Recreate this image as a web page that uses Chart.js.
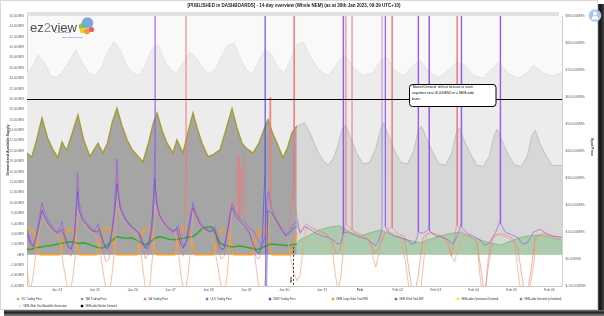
<!DOCTYPE html>
<html><head><meta charset="utf-8">
<script src="https://cdn.jsdelivr.net/npm/chart.js@4/dist/chart.umd.min.js"></script>
<style>html,body{margin:0;padding:0;background:#fff;}canvas{display:block;}</style>
</head><body>
<canvas id="c" width="604" height="316"></canvas>
<script>
// ---------------- DATA (hours from 24 Jan 00:00) ----------------
const xTickLabels = ['Jan 24','Jan 25','Jan 26','Jan 27','Jan 28','Jan 29','Jan 30','Jan 31','Feb','Feb 02','Feb 03','Feb 04','Feb 05','Feb 06'];
const xTickHours = [0,24,48,72,96,120,144,168,192,216,240,264,288,312];
const leftTicks = [-6000,-4000,-2000,0,2000,4000,6000,8000,10000,12000,14000,16000,18000,20000,22000,24000,26000,28000,30000,32000,34000,36000,38000,40000,42000,44000,46000];
const rightTicks = [-100,0,100,200,300,400,500,600,700,800,900];

const demandHist = [[-19,19600],[-16,18800],[-13,22000],[-9.5,26300],[-6,22500],[-2.5,20200],[0.5,18700],[3.2,21700],[5,20600],[6.3,20200],[9,22800],[13.3,26900],[17,22000],[20.9,18900],[24,20500],[26,21500],[29,19600],[32,21500],[35,25500],[38,28200],[41,25000],[44.4,22100],[47.5,20300],[50.7,19200],[54.5,17900],[58,21500],[61,25300],[63.4,27300],[66.5,24000],[69.7,21500],[73.5,19600],[76,22100],[79.8,19600],[83,23500],[86.2,27300],[89,24200],[91.9,21500],[95.7,18900],[99,19300],[103.3,20200],[107,24000],[110.9,28100],[114,24500],[117.2,21500],[120,20500],[124.2,19600],[128,21500],[131,24000],[133.7,26000],[136.5,23500],[139.4,21500],[143.2,18700],[146,20500],[148.9,23500],[152,24800]];
const demandFc = [[152,24800],[157,25500],[161,23000],[165,20000],[169,18000],[172,17300],[175,18500],[178,21000],[181,24500],[183,25000],[186,22500],[190,19500],[194,17500],[198,17800],[202,20500],[205,24000],[207,25500],[210,23000],[214,20000],[218,17800],[222,17500],[226,20000],[229,24000],[231,24800],[234,22500],[238,19800],[242,17600],[246,17200],[250,19500],[253,23500],[255,24500],[258,22000],[262,19500],[266,17300],[270,17000],[274,19000],[277,23000],[279,24200],[282,22000],[286,19200],[290,17300],[294,17000],[298,19000],[301,23000],[303,24000],[306,21500],[310,19000],[314,17200],[320,17200]];
const availGen = [[-19,35000],[-15,36500],[-12,38500],[-8,37000],[-4,34500],[0,34200],[4,35500],[8,37500],[12,39400],[16,37000],[20,35000],[24,34500],[28,36000],[32,39000],[36,41000],[40,39500],[44,36500],[48,35000],[52,34500],[56,36500],[60,39500],[64,40500],[68,37500],[72,35500],[76,35000],[80,37000],[84,39000],[88,38000],[92,36000],[96,34800],[100,35500],[104,38000],[108,40200],[112,40800],[116,38000],[120,35500],[124,35000],[128,37500],[132,39500],[136,38500],[140,36000],[144,35000],[148,37500],[152,40500],[156,41000],[160,38500],[166,35500],[172,34500],[178,37000],[182,38500],[188,36000],[194,34500],[200,35000],[205,37500],[209,38000],[214,35500],[220,34500],[226,36500],[230,37500],[236,35000],[242,34200],[248,35500],[253,37000],[258,36500],[264,34500],[270,34000],[276,36000],[280,37000],[286,35000],[292,34000],[298,35000],[302,36500],[308,35000],[314,34500],[320,35000]];
const solarHist = [[-19,4900],[-17,5100],[-15,4500],[-12.5,2000],[-10.5,0],[1.5,0],[3.5,2100],[5.5,4500],[8,5000],[10.5,4600],[12.5,2200],[14.5,0],[25,0],[27,2300],[29,4700],[31.5,5200],[34,4700],[36,2300],[38,0],[50.5,0],[52.5,2200],[54.5,4600],[57,5100],[59.5,4500],[61.5,2000],[63.5,0],[74.5,0],[76.5,2400],[78.5,4800],[81,5200],[83.5,4800],[85.5,2300],[87.5,0],[99,0],[101,2200],[103,4600],[105.5,5000],[108,4700],[110,2300],[112,0],[123.5,0],[125.5,2100],[127.5,4500],[130,5000],[132.5,4600],[134.5,2200],[136.5,0],[148,0],[150,2000],[152,4300]];
const windHist = [[-19,1000],[-16,1100],[-13,1400],[-10,1500],[-7,1700],[-4,1800],[-1,2000],[2,2200],[5,2300],[8,2500],[11,2400],[14,2200],[17,2300],[20,2100],[23,1700],[26,1400],[29,1300],[32,1900],[35,2800],[38,3500],[41,3300],[44,3200],[47,3300],[50,2900],[53,2400],[56,1900],[59,2500],[62,3200],[65,3500],[68,3300],[71,3000],[74,2900],[77,3000],[80,3200],[83,3400],[86,3500],[89,4200],[92,5100],[95,5300],[98,5400],[100,4300],[103,2300],[106,1900],[109,1600],[112,1500],[115,1700],[118,1600],[121,1400],[124,1200],[127,1000],[130,1300],[133,1800],[136,2100],[139,2000],[142,1900],[145,1800],[148,1900],[152,2100]];
const windFc = [[152,2100],[154,2900],[160,3800],[166,4800],[172,5300],[179,5600],[185,4500],[192,3650],[198,4200],[205,4800],[211,4000],[217,3300],[223,2800],[230,2300],[236,3000],[243,3650],[249,4100],[255,4400],[261,3600],[268,2900],[274,2300],[281,1900],[287,2600],[293,3300],[300,3700],[306,3850],[313,3300],[320,2900]];
const qldPrice = [[-19,110],[-17,70],[-15,50],[-13,90],[-11,160],[-9.5,210],[-8,175],[-6,150],[-4,130],[-2,115],[0,100],[2,120],[3,140],[5,90],[7,50],[9,40],[11,90],[12,170],[13,320],[14,210],[16,160],[18,140],[20,125],[22,110],[24,105],[26,130],[28,80],[30,45],[32,35],[34,70],[36,160],[37,260],[38,370],[39,230],[41,175],[44,145],[47,125],[50,105],[53,90],[55,55],[57,35],[59,60],[61,150],[61.9,400],[62.1,2000],[62.3,260],[64,180],[66,150],[68,135],[71,115],[74,105],[77,125],[79,65],[81,45],[83,75],[85,150],[86,210],[88,170],[91,135],[94,115],[97,105],[100,120],[103,65],[106,45],[108,110],[110,180],[111,205],[113,175],[116,150],[119,135],[122,115],[125,100],[127,75],[130,45],[132,90],[133,220],[134,250],[136,185],[139,145],[142,115],[145,90],[148,110],[150,130],[152,140],[154,95],[157,120],[160,110],[164,95],[168,85],[172,80],[175,70],[178,55],[180,60],[181.2,90],[181.4,2000],[181.6,95],[184,100],[188,90],[192,80],[196,75],[199,60],[202,50],[204,70],[205.9,110],[206.1,2000],[207.9,2000],[208.1,120],[210,100],[214,85],[218,80],[222,70],[225,55],[227,60],[228.7,90],[228.9,2000],[229.1,100],[232,95],[235.6,110],[235.8,2000],[236,105],[240,85],[244,80],[248,70],[251,55],[254,90],[256,130],[256.2,2000],[256.4,120],[260,95],[264,85],[268,70],[271,50],[274,60],[278,100],[280.7,140],[280.9,2000],[281.1,130],[284,100],[288,90],[292,80],[295,55],[298,60],[302,100],[306,110],[310,95],[314,85],[320,80]];
const nswPrice = [[-19,95],[-17,60],[-15,45],[-13,85],[-11,140],[-9.5,180],[-8,160],[-6,135],[-4,120],[-2,105],[0,95],[3,110],[5,80],[7,45],[9,35],[11,80],[13,250],[14,180],[16,145],[19,125],[22,105],[25,100],[27,110],[29,70],[31,40],[33,45],[35,110],[37,200],[38,280],[40,190],[43,150],[46,125],[49,110],[52,95],[54,60],[56,40],[58,55],[60,120],[62,300],[63,210],[65,160],[68,130],[71,110],[74,100],[76,115],[78,60],[80,40],[82,70],[84,140],[86,190],[88,160],[91,125],[94,110],[97,100],[100,110],[102,60],[104,35],[106,40],[108,100],[110,170],[111,190],[113,160],[116,140],[119,120],[122,95],[124,60],[126,30],[128,20],[130,60],[131.6,300],[131.8,2000],[132.2,-400],[133.5,180],[136,170],[139,140],[142,110],[145,85],[148,100],[150,115],[152,120]];
const saPrice = [[-19,100],[-17,40],[-15,20],[-13,70],[-11,150],[-9.5,200],[-8,165],[-6,140],[-4,120],[-2,105],[0,95],[3,115],[5,60],[7,20],[9,10],[11,70],[13,280],[14,190],[16,150],[19,125],[22,105],[25,95],[27,100],[29,30],[31,-10],[33,0],[35,90],[37,220],[38,330],[40,200],[43,155],[46,130],[49,110],[52,95],[54,40],[56,0],[58,20],[60,110],[62,280],[63,220],[65,165],[68,135],[71,115],[74,100],[76,110],[78,40],[80,10],[81.5,300],[81.7,2000],[81.9,200],[84,150],[86,200],[88,165],[91,130],[94,115],[97,100],[100,105],[102,40],[104,0],[106,10],[108,90],[110,190],[111,210],[113,180],[114.7,385],[115.2,150],[116.5,330],[117,160],[118.5,380],[119,140],[122,100],[124,50],[126,10],[128,0],[130,40],[132,150],[134,230],[135,600],[135.4,200],[138,160],[141,130],[144,105],[147,110],[150,300],[150.2,2000],[150.4,220],[152,160],[154,100],[158,130],[162,115],[166,105],[170,95],[174,70],[177,20],[179,30],[181,80],[182.8,120],[183,2000],[183.2,130],[186.7,110],[186.9,2000],[187.1,105],[190,95],[194,85],[198,70],[201,20],[204,40],[208,100],[212.1,120],[212.3,2000],[212.5,115],[216,95],[220,85],[223,-40],[226,-150],[229,-60],[232,80],[236,100],[240,90],[244,85],[248,60],[250,10],[253.3,130],[253.5,2000],[253.7,125],[258,95],[262,85],[266,60],[269,-50],[271,-150],[273,-40],[276,80],[280,95],[284,90],[288,80],[292,40],[295,-80],[297,-150],[300,-60],[303,80],[308,95],[314,85],[320,80]];
const vicPrice = [[-19,-40],[-17,-120],[-15,-60],[-13,40],[-11,110],[-9,150],[-6,120],[-3,100],[0,90],[2,60],[4,-20],[6,-90],[8,-130],[10,-70],[12,30],[13,180],[15,150],[18,120],[21,100],[24,95],[27,40],[29,-40],[31,-110],[33,-140],[35,-50],[37,60],[38,220],[40,160],[43,130],[46,110],[50,90],[53,30],[55,-60],[57,-150],[59,-90],[61,40],[62,200],[64,170],[67,130],[71,110],[75,100],[77,20],[79,-80],[81,-130],[83,-60],[85,60],[86,180],[88,150],[91,120],[95,100],[99,70],[102,-30],[104,-100],[106,-140],[108,-50],[110,100],[111,190],[113,160],[117,130],[121,100],[124,70],[126,-20],[128,-110],[130,-150],[132,-70],[134,90],[135,180],[138,140],[142,110],[146,80],[148,10],[150,-50],[152,-80],[154,-60],[156,40],[158,120],[162,110],[166,100],[170,90],[174,60],[176,-40],[178,-120],[180,-60],[182,80],[186,110],[190,100],[194,90],[198,70],[200,10],[202,-30],[204,20],[206,90],[210,100],[214,95],[218,80],[221,-20],[224,-150],[227,-120],[230,-140],[232,-30],[234,90],[238,95],[242,90],[246,80],[249,20],[252,-10],[254,40],[258,90],[262,85],[266,70],[268,-60],[270,-150],[272,-80],[274,50],[278,90],[282,85],[286,80],[290,60],[293,-90],[296,-150],[299,-130],[302,-20],[304,80],[308,90],[312,85],[316,80],[320,70]];
const nowHour = 149.6;
const annotationMW = 30000;

// ---------------- CHART ----------------
const F = '"Liberation Sans", Arial, sans-serif';
const pts = a => a.map(p => ({x: p[0], y: p[1]}));
const base = {pointRadius: 0, pointHoverRadius: 0, tension: 0, borderJoinStyle: 'miter'};

function txt(c, s, x, y, size, o) {
  o = o || {};
  c.font = (o.bold ? 'bold ' : '') + size + 'px ' + F;
  c.fillStyle = o.color || '#333';
  c.textAlign = o.align || 'left';
  c.textBaseline = 'middle';
  c.fillText(s, x, y);
}

const deco = {
  id: 'deco',
  beforeDraw(ch) {
    const c = ch.ctx, a = ch.chartArea;
    c.save();
    c.fillStyle = '#fff'; c.fillRect(0, 0, 604, 316);
    let g = c.createLinearGradient(598, 0, 604, 0);
    g.addColorStop(0, '#555'); g.addColorStop(0.3, '#111'); g.addColorStop(1, '#444');
    c.fillStyle = g; c.fillRect(598, 4, 6, 312);
    g = c.createLinearGradient(0, 310, 0, 316);
    g.addColorStop(0, '#777'); g.addColorStop(0.4, '#222'); g.addColorStop(1, '#888');
    c.fillStyle = g; c.fillRect(4, 310, 600, 6);
    c.fillStyle = '#fff'; c.fillRect(0, 0, 598, 310);
    c.strokeStyle = '#d8d8d8'; c.lineWidth = 1; c.strokeRect(0.5, 0.5, 597, 309);
    const y0 = ch.scales.y.getPixelForValue(0);
    c.fillStyle = '#f9f9f9'; c.fillRect(a.left, a.top, a.right - a.left, y0 - a.top);
    c.restore();
  },
  afterDatasetsDraw(ch) {
    const c = ch.ctx, a = ch.chartArea, xs = ch.scales.x, ys = ch.scales.y;
    c.save();
    c.fillStyle = '#e2e2e2'; c.fillRect(a.left, a.top - 4, a.right - a.left - 3, 4);
    const nx = Math.round(xs.getPixelForValue(nowHour)) + 0.5;
    const y0 = ys.getPixelForValue(0);
    c.strokeStyle = '#333'; c.lineWidth = 1; c.setLineDash([2, 2]);
    c.beginPath(); c.moveTo(nx, y0 - 8); c.lineTo(nx, a.bottom); c.stroke();
    c.setLineDash([]);
    c.save(); c.translate(nx - 2.5, a.bottom - 3); c.rotate(-Math.PI / 2);
    txt(c, 'now', 0, 0, 3, {color: '#222', bold: true}); c.restore();
    const ly = Math.round(ys.getPixelForValue(annotationMW)) + 0.5;
    const bx = 409.5, bw = 86.5, by = 84.5, bh = 22;
    c.strokeStyle = '#000'; c.lineWidth = 1;
    c.beginPath(); c.moveTo(a.left, ly); c.lineTo(bx, ly); c.moveTo(bx + bw, ly); c.lineTo(a.right, ly); c.stroke();
    c.beginPath();
    c.roundRect(bx, by, bw, bh, 3);
    c.fillStyle = '#fff'; c.fill(); c.stroke();
    txt(c, "'Market Demand' still not forecast to reach", 412, 87.5, 3.3, {color: '#111'});
    txt(c, 'anywhere near 30,000MW on a NEM-wide', 412, 93.2, 3.3, {color: '#111'});
    txt(c, 'basis.', 412, 98.9, 3.3, {color: '#111'});
    c.restore();
  },
  afterDraw(ch) {
    const c = ch.ctx;
    c.save();
    txt(c, '[PUBLISHED in DASHBOARDS] - 14-day overview (Whole NEM) (as at 30th Jan 2023, 09:39 UTC+10)', 294, 5.5, 4.5, {bold: true, align: 'center', color: '#222'});
    c.save(); c.translate(8, 150); c.rotate(-Math.PI / 2);
    txt(c, 'Demand and Available Supply', 0, 0, 3.6, {bold: true, align: 'center', color: '#333'}); c.restore();
    c.save(); c.translate(592, 147); c.rotate(Math.PI / 2);
    txt(c, 'Spot Price', 0, 0, 3.6, {bold: true, align: 'center', color: '#333'}); c.restore();
    c.font = '13px ' + F; c.textBaseline = 'alphabetic'; c.textAlign = 'left';
    let lx = 30;
    c.fillStyle = '#4a4a4a'; c.fillText('ez', lx, 31.5); lx += c.measureText('ez').width;
    c.fillStyle = '#8a8a8a'; c.fillText('2', lx, 31.5); lx += c.measureText('2').width;
    c.fillStyle = '#4a4a4a'; c.fillText('view', lx, 31.5);
    const circ = (x, y, r, col) => { c.beginPath(); c.arc(x, y, r, 0, Math.PI * 2); c.fillStyle = col; c.fill(); };
    circ(87.5, 23, 5.8, 'rgba(110,160,215,0.9)');
    circ(82, 26.5, 3.2, 'rgba(120,190,90,0.9)');
    circ(82.5, 30.5, 2.8, 'rgba(245,200,30,0.95)');
    circ(87, 31.5, 2.8, 'rgba(240,140,40,0.9)');
    circ(91.5, 29.5, 2.6, 'rgba(230,80,70,0.9)');
    txt(c, 'by Global-Roam', 55, 32.5, 2.2, {color: '#444'});
    txt(c, 'www.ez2view.com.au', 62, 37.8, 2.2, {color: '#3344dd'});
    circ(595, 15.5, 6.3, '#a9c9ea');
    circ(595, 13.5, 2, '#fff');
    c.beginPath(); c.arc(595, 19.5, 3.4, Math.PI, 0); c.fillStyle = '#fff'; c.fill();
    const row1 = [[18,'VIC Trading Price','#f6a25c'],[82,'TAS Trading Price','#999999'],[145,'SA Trading Price','#f07878'],[207,'QLD Trading Price','#a05ee8'],[270,'NSW Trading Price','#4a4af0'],[333,'NEM Large Solar Total MW','#ff9900'],[396,'NEM Wind Total MW','#2e9e2e'],[458,'NEM-wide Operational Demand','#f2e600'],[521,'NEM-wide Demand (scheduled)','#888888']];
    const row2 = [[20,'NEM-Wide Total Available Generation','#e6e6e6'],[82,'NEM-wide Market Demand','#000000']];
    const drawRow = (row, y) => row.forEach(([x, s, col]) => {
      c.fillStyle = col; c.fillRect(x - 1.2, y - 1.2, 2.4, 2.4);
      txt(c, s, x + 3.5, y, 2.6, {color: '#333'});
    });
    drawRow(row1, 299); drawRow(row2, 306);
    c.restore();
  }
};

const fmtMW = v => v.toLocaleString('en-US') + 'MW';
const fmtP = v => '$' + v.toLocaleString('en-US', {minimumFractionDigits: 2, maximumFractionDigits: 2}) + '/MWh';

new Chart(document.getElementById('c'), {
  type: 'line',
  data: {
    datasets: [
      Object.assign({label: 'QLD Trading Price', data: pts(qldPrice), yAxisID: 'y1', borderColor: 'rgba(150,85,235,0.8)', borderWidth: 0.8, order: 1}, base),
      Object.assign({label: 'NSW Trading Price', data: pts(nswPrice), yAxisID: 'y1', borderColor: 'rgba(70,70,240,0.8)', borderWidth: 0.8, order: 2}, base),
      Object.assign({label: 'SA Trading Price', data: pts(saPrice), yAxisID: 'y1', borderColor: 'rgba(238,120,120,0.75)', borderWidth: 0.8, order: 3}, base),
      Object.assign({label: 'VIC Trading Price', data: pts(vicPrice), yAxisID: 'y1', borderColor: 'rgba(244,160,120,0.85)', borderWidth: 0.8, order: 4}, base),
      Object.assign({label: 'NEM Wind Total MW', data: pts(windHist), yAxisID: 'y', borderColor: '#35a935', borderWidth: 1.6, order: 5}, base),
      Object.assign({label: 'NEM Large Solar Total MW', data: pts(solarHist), yAxisID: 'y', borderColor: '#ff9c1a', borderWidth: 1.5, order: 6}, base),
      Object.assign({label: 'Wind forecast', data: pts(windFc), yAxisID: 'y', borderColor: '#86c086', backgroundColor: 'rgba(130,190,130,0.5)', fill: 'origin', borderWidth: 1, order: 7}, base),
      Object.assign({label: 'Demand forecast', data: pts(demandFc), yAxisID: 'y', borderColor: '#c2c2c2', backgroundColor: '#d7d7d7', fill: 'origin', borderWidth: 1, order: 8}, base),
      Object.assign({label: 'NEM-wide Market Demand', data: pts(demandHist), yAxisID: 'y', borderColor: '#a59c3a', backgroundColor: '#a5a5a5', fill: 'origin', borderWidth: 1.5, order: 9}, base),
      Object.assign({label: 'NEM-Wide Total Available Generation', data: pts(availGen), yAxisID: 'y', borderColor: '#e3e3e3', backgroundColor: '#ececec', fill: 'origin', borderWidth: 1, order: 10}, base)
    ]
  },
  options: {
    responsive: false, animation: false, devicePixelRatio: 1,
    layout: {padding: {left: 0, right: 0, top: 16, bottom: 21}},
    plugins: {legend: {display: false}, tooltip: {enabled: false}, title: {display: false}},
    scales: {
      x: {
        type: 'linear', min: -19, max: 320,
        afterBuildTicks: s => { s.ticks = xTickHours.map(v => ({value: v})); },
        afterFit: s => { s.height = 9; },
        grid: {display: false, drawTicks: false},
        border: {display: true, color: '#c8c8c8'},
        ticks: {
          autoSkip: false, maxRotation: 0, padding: 2, color: '#555',
          font: ctx => ({size: 3.4, family: F, weight: (ctx.tick && ctx.tick.value === 192) ? 'bold' : 'normal'}),
          callback: v => xTickLabels[xTickHours.indexOf(v)] || ''
        }
      },
      y: {
        position: 'left', min: -6000, max: 46000,
        afterBuildTicks: s => { s.ticks = leftTicks.map(v => ({value: v})); },
        afterFit: s => { s.width = 27; },
        grid: {display: false, drawTicks: false},
        border: {display: true, color: '#cfcfcf'},
        ticks: {autoSkip: false, padding: 3, color: '#666', font: {size: 3, family: F}, callback: v => fmtMW(v)}
      },
      y1: {
        position: 'right', min: -100, max: 900,
        afterBuildTicks: s => { s.ticks = rightTicks.map(v => ({value: v})); },
        afterFit: s => { s.width = 42; },
        grid: {display: false, drawTicks: false},
        border: {display: true, color: '#cfcfcf'},
        ticks: {autoSkip: false, padding: 3.5, color: '#666', font: {size: 3.1, family: F}, callback: v => fmtP(v)}
      }
    }
  },
  plugins: [deco]
});
</script>
</body></html>
